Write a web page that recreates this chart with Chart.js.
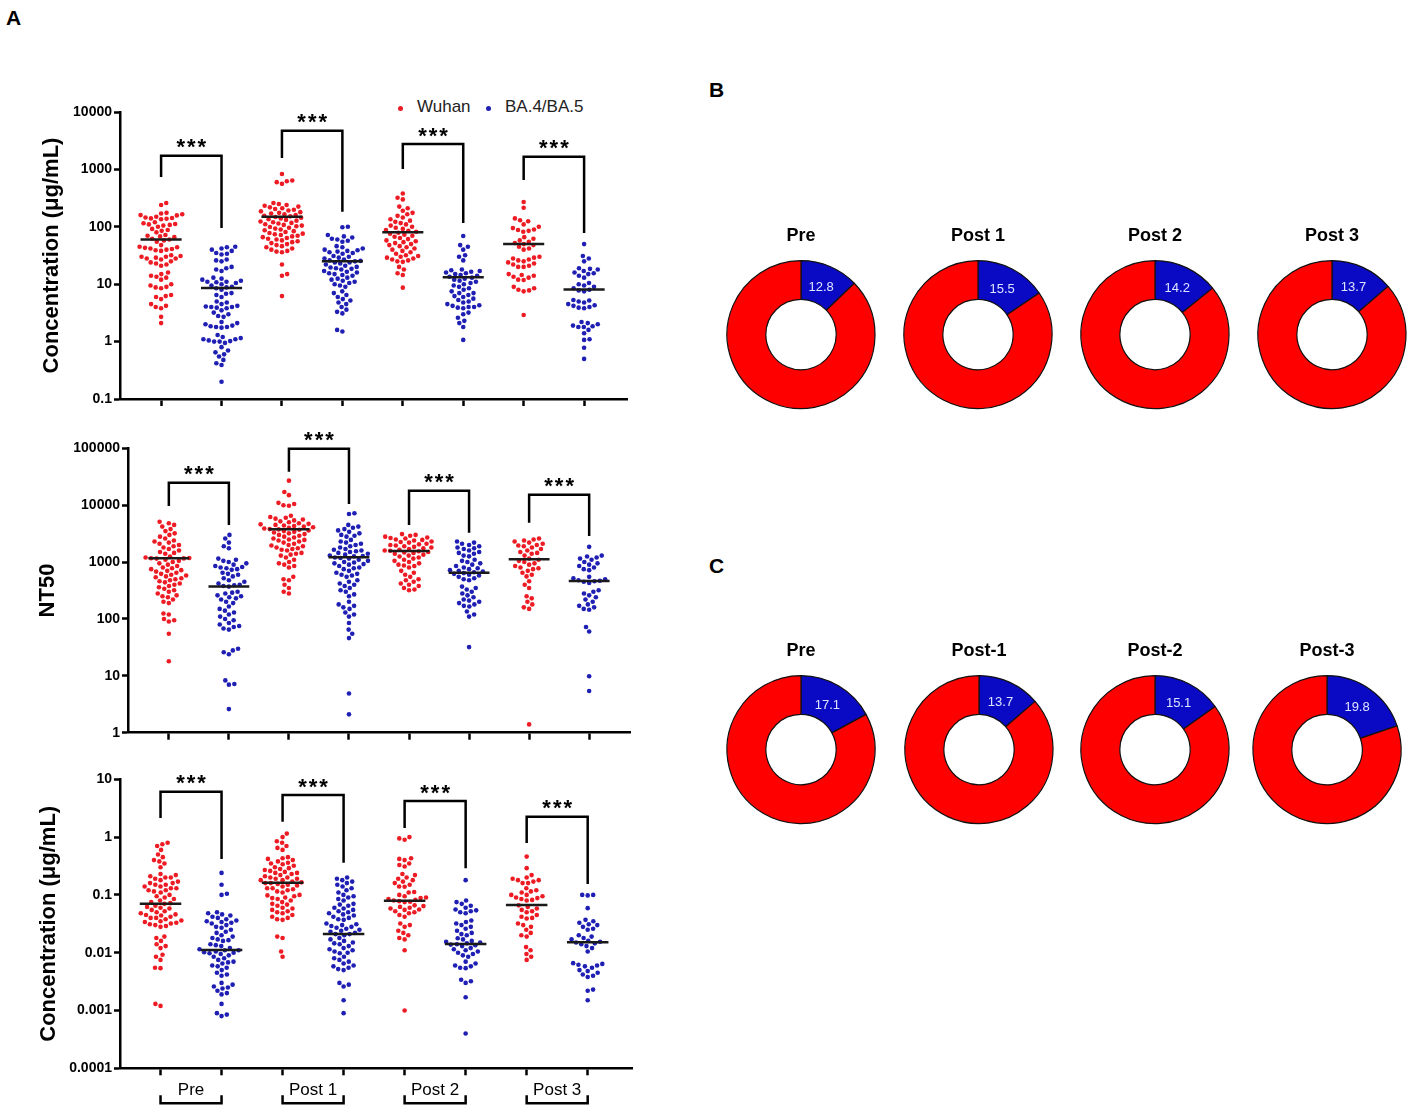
<!DOCTYPE html>
<html>
<head>
<meta charset="utf-8">
<script src="https://cdn.jsdelivr.net/npm/chart.js@4.4.0/dist/chart.umd.min.js"></script>
<style>
    body { margin: 0; background: #fff; font-family: "Liberation Sans", Arial, sans-serif; }
    #page { position: relative; width: 1416px; height: 1112px; overflow: hidden; }
    canvas { position: absolute; }
    .letter { position: absolute; font-weight: bold; font-size: 21px; color: #000; }
    .legend { position: absolute; font-size: 17px; color: #222; line-height: 20px; }
    .dot { position: absolute; width: 5px; height: 5px; border-radius: 50%; }
</style>
</head>
<body>
<div id="page">
    <div class="letter" style="left:6px; top:6px;">A</div>
    <div class="letter" style="left:709px; top:78px;">B</div>
    <div class="letter" style="left:709px; top:554px;">C</div>
    <div class="dot" style="left:398px; top:106px; background:#ed1c24;"></div>
    <div class="legend" style="left:417px; top:97px;">Wuhan</div>
    <div class="dot" style="left:486px; top:106px; background:#1f1fb4;"></div>
    <div class="legend" style="left:505px; top:97px;">BA.4/BA.5</div>
</div>
<script>
const groups = ['Pre', 'Post 1', 'Post 2', 'Post 3'];
const redColor = '#ed1c24';
const blueColor = '#1f1fb4';

// ---- top panel: concentration (ug/mL) ----
const topTicks = [0.1, 1, 10, 100, 1000, 10000];
const topWuhan = [
    [260, 240, 175, 170, 165, 160, 158, 150, 145, 142, 140, 138, 135, 120, 115, 112, 110, 108, 105, 100, 92, 88, 85, 80, 72, 70, 68, 66, 62, 60, 58, 55, 48, 45, 44, 43, 42, 41, 40, 39, 38, 32, 31, 30, 30, 29, 28, 28, 27, 25, 24, 23, 22, 21, 16, 15, 14, 13.5, 13, 12, 10, 9.5, 9, 8.8, 8.5, 6.5, 6.2, 6, 5.5, 4.5, 4.2, 4, 3.8, 2.7, 2.1],
    [830, 640, 620, 600, 560, 260, 250, 240, 232, 225, 218, 210, 204, 198, 192, 186, 180, 175, 170, 165, 160, 156, 152, 148, 144, 140, 136, 132, 128, 124, 120, 117, 114, 111, 108, 105, 102, 99, 96, 93, 90, 87, 84, 81, 78, 76, 74, 72, 70, 68, 66, 64, 62, 60, 58, 56, 54, 52, 50, 48, 46, 44, 42, 40, 38, 37, 36, 22, 15, 14, 6.2],
    [380, 320, 300, 225, 210, 190, 175, 165, 155, 145, 135, 128, 122, 116, 110, 105, 100, 96, 92, 88, 85, 82, 79, 76, 73, 70, 67, 64, 61, 58, 56, 54, 52, 50, 48, 46, 44, 42, 40, 38, 36, 34, 32, 31, 30, 29, 28, 27, 26, 25, 24.5, 20, 18, 15.5, 14.5, 8.7],
    [270, 215, 140, 130, 125, 110, 100, 95, 90, 88, 85, 82, 66, 62, 58, 55, 52, 50, 48, 45, 42, 40, 30, 29, 28, 27, 26, 25, 24, 23, 22, 21, 20, 20, 15, 14.5, 14, 13.5, 13, 12, 11.8, 9, 8.5, 8, 7.8, 7.5, 2.9]
];
const topBA45 = [
    [45, 44, 42, 40, 38, 35, 34, 33, 27, 26, 25, 20, 19, 18, 17, 13, 12.5, 12, 11.5, 11, 11, 10.8, 10.5, 10, 9.5, 9, 8.8, 8.5, 8, 7, 6.8, 6.5, 6, 5, 4.8, 4.5, 4.2, 4.1, 4, 4, 3.9, 3.8, 3.5, 3.2, 3, 2.8, 2.7, 2.2, 2.1, 2, 1.9, 1.85, 1.8, 1.8, 1.75, 1.3, 1.2, 1.15, 1.1, 1.1, 1.05, 1.02, 1, 1, 0.95, 0.8, 0.7, 0.65, 0.6, 0.55, 0.48, 0.42, 0.39, 0.2],
    [100, 98, 72, 68, 65, 62, 60, 57, 55, 46, 44, 42, 40, 39, 38, 37, 36, 35, 34, 31, 30, 29, 28, 27, 26, 25.5, 25, 24, 24, 23, 22, 21, 20, 19.5, 19, 18.5, 18, 17, 16.5, 16, 15.5, 15, 14.5, 14, 13, 12.5, 12, 11.5, 11, 10.5, 10, 9.5, 9, 7.5, 7, 6.5, 6, 5.5, 5.2, 4.8, 4.5, 4, 3.6, 3.3, 3.1, 1.6, 1.5],
    [69, 48, 45, 40, 32, 30, 26, 18, 17.5, 17, 16.5, 16, 15.5, 15, 14.5, 14, 13.5, 13, 12.5, 12, 11.5, 11, 10.5, 10, 9.5, 9, 8.5, 8, 7.5, 7, 7, 6.5, 6.2, 6, 5.6, 5.3, 5, 4.8, 4.5, 4.3, 4.2, 4, 4, 3.9, 3.8, 3.2, 3, 2.6, 2.3, 2.1, 1.8, 1.07],
    [50, 31, 28, 25, 19, 18.5, 18, 17, 16, 15.5, 15, 14, 13, 10.5, 10, 9.5, 9, 8.5, 8, 7.8, 7.5, 5.3, 5.2, 5, 4.8, 4.5, 4.3, 4.2, 4, 3.9, 3.8, 2.2, 2.1, 2, 1.9, 1.85, 1.8, 1.8, 1.6, 1.4, 1.1, 1.07, 0.78, 0.5]
];
const topMedianWuhan = [60, 150, 80, 50];
const topMedianBA45 = [8.6, 25, 13.2, 8.1];
// bracket: [top, left leg end, right leg end]
const topBrackets = [[1730, 740, 95], [4720, 1580, 183], [2770, 1016, 116], [1660, 653, 78]];

// ---- middle panel: NT50 ----
const midTicks = [1, 10, 100, 1000, 10000, 100000];
const midWuhan = [
    [5100, 4800, 4500, 4200, 3800, 3500, 3200, 3000, 2800, 2600, 2400, 2300, 2200, 2100, 2000, 1900, 1800, 1700, 1600, 1500, 1450, 1400, 1250, 1200, 1180, 1170, 1160, 1150, 1100, 1050, 1000, 950, 900, 850, 800, 780, 750, 720, 700, 680, 650, 620, 600, 580, 560, 540, 520, 500, 480, 460, 440, 420, 400, 380, 360, 340, 320, 300, 280, 260, 250, 240, 220, 200, 190, 125, 120, 100, 95, 90, 55, 18],
    [27000, 17000, 15000, 11000, 10500, 10000, 9800, 6500, 6200, 6000, 5800, 5600, 5400, 5200, 5000, 4800, 4700, 4600, 4500, 4400, 4300, 4200, 4100, 4000, 3900, 3800, 3750, 3700, 3600, 3500, 3400, 3300, 3200, 3100, 3000, 2900, 2800, 2700, 2600, 2500, 2450, 2400, 2300, 2200, 2100, 2000, 1950, 1900, 1800, 1750, 1700, 1650, 1600, 1450, 1400, 1350, 1300, 1200, 1100, 1000, 950, 900, 850, 800, 550, 500, 480, 400, 350, 300, 280],
    [3100, 3000, 2900, 2800, 2700, 2650, 2600, 2500, 2450, 2400, 2300, 2250, 2200, 2100, 2050, 2000, 1950, 1900, 1850, 1800, 1750, 1700, 1650, 1600, 1580, 1550, 1500, 1480, 1450, 1400, 1350, 1300, 1250, 1200, 1150, 1100, 1050, 1000, 950, 900, 870, 850, 800, 700, 650, 600, 550, 500, 480, 450, 420, 400, 380, 350, 330, 320],
    [2600, 2500, 2400, 2300, 2200, 2100, 2000, 1950, 1900, 1800, 1700, 1600, 1500, 1450, 1400, 1300, 1150, 1100, 1050, 1000, 950, 900, 850, 800, 780, 750, 700, 650, 600, 560, 460, 400, 350, 250, 230, 200, 180, 160, 150, 1.4]
];
const midBA45 = [
    [3000, 2600, 2200, 1900, 1750, 1150, 1100, 1050, 1000, 950, 900, 850, 820, 800, 780, 750, 730, 650, 620, 600, 560, 520, 480, 450, 420, 400, 390, 380, 370, 300, 290, 280, 260, 250, 240, 230, 220, 200, 190, 165, 150, 140, 130, 120, 110, 100, 95, 85, 80, 75, 72, 68, 65, 30, 28, 26, 24, 8.3, 7.2, 7, 2.6],
    [7200, 7000, 4500, 4200, 4000, 3800, 3600, 3400, 3200, 3000, 2900, 2800, 2450, 2300, 2200, 2100, 2000, 1900, 1800, 1700, 1650, 1600, 1550, 1500, 1450, 1400, 1350, 1300, 1280, 1260, 1200, 1180, 1150, 1100, 1050, 1000, 980, 950, 920, 900, 850, 800, 780, 750, 700, 650, 620, 600, 580, 550, 480, 450, 420, 400, 380, 350, 320, 300, 270, 250, 200, 180, 170, 160, 150, 130, 120, 110, 85, 65, 55, 46, 4.9, 2.1],
    [2300, 2200, 2100, 2000, 1900, 1800, 1750, 1700, 1600, 1500, 1450, 1400, 1300, 1260, 1100, 1050, 1000, 950, 900, 850, 800, 780, 750, 720, 700, 680, 660, 640, 620, 600, 580, 550, 520, 500, 480, 370, 350, 330, 300, 280, 260, 240, 220, 210, 200, 190, 180, 170, 165, 135, 120, 110, 32],
    [1850, 1300, 1250, 1200, 1150, 1100, 1000, 950, 900, 850, 800, 750, 720, 550, 520, 500, 480, 470, 460, 450, 430, 320, 300, 280, 260, 240, 220, 200, 180, 170, 160, 150, 145, 72, 60, 9.8, 5.4]
];
const midMedianWuhan = [1170, 3770, 1570, 1120];
const midMedianBA45 = [370, 1220, 650, 465];
const midBrackets = [[24800, 9680, 4490], [98400, 38800, 10500], [18000, 4490, 3290], [15300, 4920, 2880]];

// ---- bottom panel: concentration (ug/mL) ----
const botTicks = [0.0001, 0.001, 0.01, 0.1, 1, 10];
const botWuhan = [
    [0.8, 0.75, 0.7, 0.6, 0.5, 0.45, 0.4, 0.38, 0.35, 0.3, 0.23, 0.22, 0.21, 0.2, 0.2, 0.19, 0.18, 0.17, 0.16, 0.16, 0.15, 0.15, 0.14, 0.14, 0.13, 0.13, 0.12, 0.12, 0.115, 0.11, 0.1, 0.095, 0.09, 0.085, 0.08, 0.075, 0.072, 0.07, 0.065, 0.062, 0.06, 0.058, 0.055, 0.052, 0.05, 0.048, 0.046, 0.045, 0.044, 0.042, 0.04, 0.04, 0.038, 0.036, 0.035, 0.034, 0.033, 0.032, 0.031, 0.03, 0.029, 0.028, 0.019, 0.018, 0.016, 0.014, 0.013, 0.012, 0.0092, 0.0085, 0.0075, 0.0055, 0.0054, 0.0013, 0.0012],
    [1.15, 1.0, 0.85, 0.8, 0.7, 0.65, 0.6, 0.45, 0.43, 0.42, 0.4, 0.38, 0.36, 0.35, 0.34, 0.32, 0.3, 0.29, 0.28, 0.27, 0.26, 0.25, 0.24, 0.24, 0.23, 0.22, 0.21, 0.2, 0.2, 0.19, 0.19, 0.18, 0.18, 0.17, 0.165, 0.16, 0.16, 0.155, 0.15, 0.145, 0.14, 0.13, 0.13, 0.125, 0.12, 0.115, 0.11, 0.1, 0.098, 0.095, 0.09, 0.088, 0.085, 0.08, 0.075, 0.07, 0.068, 0.065, 0.06, 0.058, 0.055, 0.052, 0.05, 0.048, 0.045, 0.042, 0.04, 0.038, 0.037, 0.019, 0.018, 0.0105, 0.0085],
    [1.0, 0.95, 0.9, 0.43, 0.42, 0.4, 0.35, 0.33, 0.31, 0.23, 0.22, 0.2, 0.19, 0.18, 0.17, 0.16, 0.15, 0.14, 0.138, 0.112, 0.11, 0.1, 0.095, 0.09, 0.088, 0.085, 0.082, 0.08, 0.078, 0.076, 0.075, 0.066, 0.064, 0.062, 0.06, 0.058, 0.056, 0.055, 0.052, 0.05, 0.048, 0.045, 0.042, 0.032, 0.03, 0.028, 0.024, 0.022, 0.02, 0.018, 0.017, 0.011, 0.001],
    [0.46, 0.29, 0.22, 0.2, 0.19, 0.18, 0.18, 0.17, 0.16, 0.16, 0.13, 0.12, 0.115, 0.11, 0.1, 0.1, 0.095, 0.09, 0.088, 0.085, 0.082, 0.08, 0.066, 0.062, 0.058, 0.055, 0.052, 0.05, 0.045, 0.042, 0.04, 0.039, 0.032, 0.03, 0.028, 0.025, 0.022, 0.02, 0.019, 0.0125, 0.011, 0.0095, 0.0085, 0.0075]
];
const botBA45 = [
    [0.24, 0.15, 0.105, 0.1, 0.05, 0.048, 0.046, 0.044, 0.042, 0.04, 0.038, 0.036, 0.035, 0.034, 0.033, 0.032, 0.03, 0.028, 0.027, 0.025, 0.023, 0.022, 0.02, 0.019, 0.018, 0.017, 0.0165, 0.016, 0.014, 0.0135, 0.013, 0.012, 0.0115, 0.011, 0.011, 0.0105, 0.0102, 0.01, 0.0098, 0.0095, 0.009, 0.0085, 0.008, 0.0075, 0.007, 0.0068, 0.0065, 0.006, 0.0058, 0.0055, 0.005, 0.0045, 0.0042, 0.004, 0.003, 0.0028, 0.0026, 0.0025, 0.0024, 0.0022, 0.002, 0.0019, 0.0013, 0.0009, 0.00085, 0.0008],
    [0.2, 0.19, 0.18, 0.17, 0.16, 0.15, 0.14, 0.13, 0.12, 0.11, 0.1, 0.095, 0.09, 0.085, 0.08, 0.07, 0.068, 0.065, 0.06, 0.058, 0.055, 0.052, 0.05, 0.048, 0.046, 0.044, 0.042, 0.04, 0.038, 0.037, 0.032, 0.031, 0.03, 0.029, 0.028, 0.027, 0.026, 0.025, 0.024, 0.023, 0.022, 0.021, 0.021, 0.02, 0.018, 0.017, 0.016, 0.015, 0.0145, 0.014, 0.013, 0.012, 0.0115, 0.011, 0.0105, 0.01, 0.0098, 0.0085, 0.008, 0.0075, 0.007, 0.0065, 0.006, 0.0058, 0.0055, 0.0052, 0.005, 0.003, 0.0028, 0.0026, 0.0015, 0.0009],
    [0.18, 0.08, 0.075, 0.07, 0.065, 0.06, 0.056, 0.054, 0.052, 0.05, 0.048, 0.036, 0.034, 0.032, 0.03, 0.028, 0.026, 0.024, 0.022, 0.021, 0.02, 0.0178, 0.017, 0.016, 0.0155, 0.015, 0.0145, 0.014, 0.0138, 0.0135, 0.013, 0.012, 0.0115, 0.011, 0.0105, 0.01, 0.0095, 0.009, 0.0085, 0.007, 0.0065, 0.006, 0.0058, 0.0055, 0.0054, 0.0034, 0.0032, 0.003, 0.0017, 0.0004],
    [0.1, 0.1, 0.098, 0.059, 0.037, 0.035, 0.033, 0.031, 0.03, 0.028, 0.026, 0.025, 0.02, 0.019, 0.018, 0.017, 0.016, 0.0155, 0.015, 0.0145, 0.014, 0.013, 0.012, 0.0105, 0.0066, 0.0064, 0.0062, 0.006, 0.0058, 0.0055, 0.005, 0.0048, 0.0045, 0.0042, 0.004, 0.0038, 0.0023, 0.0022, 0.0015]
];
const botMedianWuhan = [0.07, 0.162, 0.079, 0.067];
const botMedianBA45 = [0.0111, 0.021, 0.0141, 0.0152];
const botBrackets = [[6.1, 2.14, 0.418], [5.35, 1.85, 0.36], [4.2, 1.44, 0.29], [2.25, 0.79, 0.155]];

// ---- donuts ----
const donutNamesB = ['Pre', 'Post 1', 'Post 2', 'Post 3'];
const donutBA45B = [12.8, 15.5, 14.2, 13.7];
const donutWuhanB = [87.2, 84.5, 85.8, 86.3];
const donutNamesC = ['Pre', 'Post-1', 'Post-2', 'Post-3'];
const donutBA45C = [17.1, 13.7, 15.1, 19.8];
const donutWuhanC = [82.9, 86.3, 84.9, 80.2];

const page = document.getElementById('page');
Chart.defaults.font.family = '"Liberation Sans", Arial, sans-serif';

function addCanvas(left, top, w, h) {
    const c = document.createElement('canvas');
    c.width = w;
    c.height = h;
    c.style.left = left + 'px';
    c.style.top = top + 'px';
    c.style.width = w + 'px';
    c.style.height = h + 'px';
    page.appendChild(c);
    return c;
}

// beeswarm: spread points sideways so they do not overlap (pixel units)
function swarmOffsets(values, pxPerDecade, d) {
    const items = values.map((v, i) => ({i: i, y: Math.log10(v) * pxPerDecade}));
    items.sort((a, b) => a.y - b.y);
    const placed = [];
    const out = new Array(values.length);
    items.forEach(it => {
        const near = placed.filter(q => Math.abs(q.y - it.y) < d);
        const cands = [0];
        near.forEach(q => {
            const dx = Math.sqrt(d * d - (q.y - it.y) * (q.y - it.y));
            cands.push(q.x + dx, q.x - dx);
        });
        cands.sort((a, b) => Math.abs(a) - Math.abs(b) || (it.i % 2 ? a - b : b - a));
        const x = cands.find(c => near.every(q => (q.x - c) * (q.x - c) + (q.y - it.y) * (q.y - it.y) >= d * d - 0.01));
        placed.push({x: x, y: it.y});
        out[it.i] = x;
    });
    return out;
}

function makePanel(cfg) {
    const W = 640;
    const canvas = addCanvas(0, cfg.top, W, cfg.height);
    const plotH = cfg.plotBottom - cfg.plotTop;
    const pxPerDecade = plotH / Math.log10(cfg.ticks[cfg.ticks.length - 1] / cfg.ticks[0]);
    const pxPerUnit = (cfg.axisRight - cfg.axisLeft) / (cfg.xMax - cfg.xMin);

    function toPoints(series, offsetCat) {
        const pts = [];
        series.forEach((vals, g) => {
            const offs = swarmOffsets(vals, pxPerDecade, 5.5);
            vals.forEach((v, k) => pts.push({x: 2 * g + offsetCat + offs[k] / pxPerUnit, y: v}));
        });
        return pts;
    }

    const xTicks = cfg.groupLabels ? [0, 0.5, 1, 2, 2.5, 3, 4, 4.5, 5, 6, 6.5, 7] : [0, 1, 2, 3, 4, 5, 6, 7];

    const marksPlugin = {
        id: 'marks',
        afterDatasetsDraw(chart) {
            const ctx = chart.ctx;
            const xs = chart.scales.x, ys = chart.scales.y;
            ctx.save();
            // median lines
            ctx.strokeStyle = '#1a1a1a';
            ctx.lineWidth = 2.5;
            [cfg.medWuhan, cfg.medBA].forEach((meds, s) => {
                meds.forEach((m, g) => {
                    const c = 2 * g + s;
                    const y = ys.getPixelForValue(m);
                    ctx.beginPath();
                    ctx.moveTo(xs.getPixelForValue(c - 0.34), y);
                    ctx.lineTo(xs.getPixelForValue(c + 0.34), y);
                    ctx.stroke();
                });
            });
            // significance brackets
            ctx.strokeStyle = '#000';
            ctx.lineWidth = 2.5;
            ctx.fillStyle = '#000';
            ctx.font = 'bold 22px "Liberation Sans", Arial, sans-serif';
            ctx.textAlign = 'center';
            ctx.textBaseline = 'alphabetic';
            if ('letterSpacing' in ctx) ctx.letterSpacing = '2px';
            cfg.brackets.forEach((b, g) => {
                const xl = xs.getPixelForValue(2 * g), xr = xs.getPixelForValue(2 * g + 1);
                const yt = ys.getPixelForValue(b[0]);
                ctx.beginPath();
                ctx.moveTo(xl, ys.getPixelForValue(b[1]));
                ctx.lineTo(xl, yt);
                ctx.lineTo(xr, yt);
                ctx.lineTo(xr, ys.getPixelForValue(b[2]));
                ctx.stroke();
                ctx.fillText('***', (xl + xr) / 2 + 1, yt - 1.5);
            });
            // group brackets under the bottom axis
            if (cfg.groupLabels) {
                const base = ys.bottom;
                groups.forEach((gname, g) => {
                    const xl = xs.getPixelForValue(2 * g), xr = xs.getPixelForValue(2 * g + 1);
                    ctx.beginPath();
                    ctx.moveTo(xl, base + 27);
                    ctx.lineTo(xl, base + 35);
                    ctx.lineTo(xr, base + 35);
                    ctx.lineTo(xr, base + 27);
                    ctx.stroke();
                });
            }
            ctx.restore();
        }
    };

    return new Chart(canvas, {
        type: 'scatter',
        data: {
            datasets: [
                {label: 'Wuhan', data: toPoints(cfg.wuhan, 0), backgroundColor: redColor, pointRadius: 2.3, borderWidth: 0},
                {label: 'BA.4/BA.5', data: toPoints(cfg.ba, 1), backgroundColor: blueColor, pointRadius: 2.3, borderWidth: 0}
            ]
        },
        options: {
            responsive: false,
            animation: false,
            events: [],
            layout: {padding: {top: cfg.plotTop - cfg.top, right: W - cfg.axisRight, left: 0, bottom: 0}},
            plugins: {legend: {display: false}, tooltip: {enabled: false}},
            scales: {
                x: {
                    type: 'linear',
                    min: cfg.xMin,
                    max: cfg.xMax,
                    afterBuildTicks: s => { s.ticks = xTicks.map(v => ({value: v})); },
                    afterFit: s => { s.height = cfg.top + cfg.height - cfg.plotBottom; },
                    ticks: {
                        autoSkip: false,
                        maxRotation: 0,
                        padding: 5,
                        color: '#000',
                        font: {size: 17},
                        callback: v => (cfg.groupLabels && !Number.isInteger(v)) ? groups[(v - 0.5) / 2] : ''
                    },
                    grid: {
                        drawOnChartArea: false,
                        drawTicks: true,
                        tickLength: 7,
                        tickWidth: 2.5,
                        tickColor: c => Number.isInteger(c.tick.value) ? '#000' : 'rgba(0,0,0,0)'
                    },
                    border: {display: true, color: '#000', width: 2.5}
                },
                y: {
                    type: 'logarithmic',
                    min: cfg.ticks[0],
                    max: cfg.ticks[cfg.ticks.length - 1],
                    afterBuildTicks: s => { s.ticks = cfg.ticks.map(v => ({value: v, major: true})); },
                    afterFit: s => { s.width = cfg.axisLeft; },
                    ticks: {
                        autoSkip: false,
                        padding: 2,
                        color: '#000',
                        font: {size: 14, weight: 'bold'},
                        callback: v => String(v)
                    },
                    grid: {drawOnChartArea: false, drawTicks: true, tickLength: 6, tickWidth: 2.5, tickColor: '#000'},
                    border: {display: true, color: '#000', width: 2.5},
                    title: {
                        display: true,
                        text: cfg.title,
                        color: '#000',
                        font: {size: 22, weight: 'bold'},
                        padding: {top: cfg.titleX - 13.2, bottom: 0}
                    }
                }
            }
        },
        plugins: [marksPlugin]
    });
}

makePanel({
    top: 95, height: 330, axisLeft: 120, axisRight: 627, plotTop: 112, plotBottom: 399,
    xMin: -0.68, xMax: 7.71, ticks: topTicks, title: 'Concentration (μg/mL)', titleX: 52,
    wuhan: topWuhan, ba: topBA45, medWuhan: topMedianWuhan, medBA: topMedianBA45, brackets: topBrackets
});
makePanel({
    top: 430, height: 330, axisLeft: 128, axisRight: 630, plotTop: 448.3, plotBottom: 732.7,
    xMin: -0.68, xMax: 7.68, ticks: midTicks, title: 'NT50', titleX: 48,
    wuhan: midWuhan, ba: midBA45, medWuhan: midMedianWuhan, medBA: midMedianBA45, brackets: midBrackets
});
makePanel({
    top: 762, height: 350, axisLeft: 120, axisRight: 632, plotTop: 779.3, plotBottom: 1068.3,
    xMin: -0.664, xMax: 7.726, ticks: botTicks, title: 'Concentration (μg/mL)', titleX: 49,
    wuhan: botWuhan, ba: botBA45, medWuhan: botMedianWuhan, medBA: botMedianBA45, brackets: botBrackets,
    groupLabels: true
});

const sliceLabel = {
    id: 'sliceLabel',
    afterDatasetsDraw(chart) {
        const arc = chart.getDatasetMeta(0).data[0];
        const p = arc.getProps(['x', 'y', 'startAngle', 'endAngle', 'innerRadius', 'outerRadius']);
        const mid = (p.startAngle + p.endAngle) / 2;
        const r = (p.innerRadius + p.outerRadius) / 2 - 3;
        const ctx = chart.ctx;
        ctx.save();
        ctx.fillStyle = '#dde4ff';
        ctx.font = '13px "Liberation Sans", Arial, sans-serif';
        ctx.textAlign = 'center';
        ctx.textBaseline = 'middle';
        ctx.fillText(String(chart.data.datasets[0].data[0]), p.x + r * Math.cos(mid), p.y + r * Math.sin(mid));
        ctx.restore();
    }
};

function makeDonut(cx, top, name, ba, wuhan) {
    const canvas = addCanvas(cx - 88, top, 176, 190);
    new Chart(canvas, {
        type: 'doughnut',
        data: {
            labels: ['BA.4/BA.5', 'Wuhan'],
            datasets: [{data: [ba, wuhan], backgroundColor: ['#0a0ac4', '#ff0000'], borderColor: '#111', borderWidth: 1.2}]
        },
        options: {
            responsive: false,
            animation: false,
            events: [],
            radius: 74,
            cutout: 36.5,
            plugins: {
                legend: {display: false},
                tooltip: {enabled: false},
                title: {display: true, text: name, color: '#000', font: {size: 18, weight: 'bold'}, padding: {top: 3, bottom: 10.6}}
            }
        },
        plugins: [sliceLabel]
    });
}

const centersB = [801, 978, 1155, 1332];
const centersC = [801, 979, 1155, 1327];
donutNamesB.forEach((n, i) => makeDonut(centersB[i], 222, n, donutBA45B[i], donutWuhanB[i]));
donutNamesC.forEach((n, i) => makeDonut(centersC[i], 637, n, donutBA45C[i], donutWuhanC[i]));
</script>
</body>
</html>
